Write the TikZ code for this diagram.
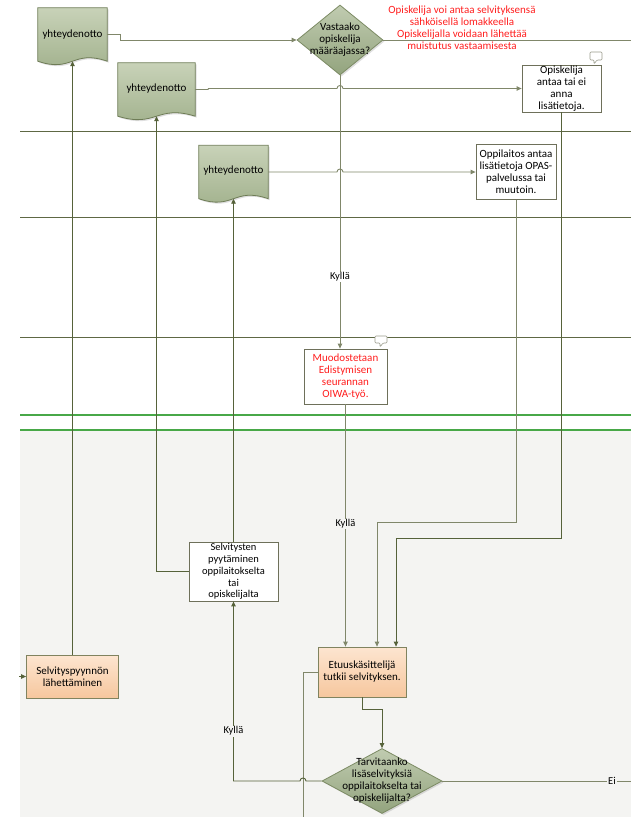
\documentclass[tikz,border=0pt]{standalone}
\usepackage{fontspec}
\setmainfont{Carlito}
\usetikzlibrary{shapes.geometric,arrows.meta,backgrounds,calc,shadows}
\definecolor{lineD}{HTML}{56623A}
\definecolor{lineL}{HTML}{80876A}
\definecolor{lane}{HTML}{5E6844}
\definecolor{grn}{HTML}{48A848}
\definecolor{bg}{HTML}{F4F4F2}
\definecolor{docT}{HTML}{C8D2B8}
\definecolor{docB}{HTML}{A0B08B}
\definecolor{docE}{HTML}{6E7C56}
\definecolor{diaT}{HTML}{C0CBB0}
\definecolor{diaB}{HTML}{93A47E}
\definecolor{diaE}{HTML}{7C8B64}
\definecolor{orT}{HTML}{FDE5D0}
\definecolor{orB}{HTML}{F6C79E}
\definecolor{orE}{HTML}{80835F}
\definecolor{boxE}{HTML}{6E705A}
\definecolor{redt}{HTML}{FF1E1E}
\begin{document}
\begin{tikzpicture}[x=1pt,y=-1pt, font=\fontsize{11}{12}\selectfont,
  conn/.style={draw=lineL, line width=0.9pt},
  connD/.style={draw=lineD, line width=0.9pt},
  arr/.style={-{Triangle[length=5pt,width=4.5pt]}},
  docnode/.style={inner sep=0, align=center},
  shd/.style={drop shadow={shadow xshift=1.5pt, shadow yshift=-1.5pt, opacity=0.25}},
  docshape/.style={draw=docE, line width=0.8pt, top color=docT, bottom color=docB, shd},
  dia/.style={diamond, inner sep=0, draw=diaE, line width=0.8pt, top color=diaT, bottom color=diaB, shd},
  wbox/.style={rectangle, inner sep=0, align=center, draw=boxE, line width=0.8pt, fill=white},
  obox/.style={rectangle, inner sep=0, align=center, draw=orE, line width=0.8pt, top color=orT, bottom color=orB},
  lbl/.style={inner sep=1pt, font=\fontsize{10.5}{12}\selectfont},
  laneline/.style={draw=lane, line width=0.8pt},
  grnline/.style={draw=grn, line width=2pt},
  bubble/.style={draw=boxE!70, fill=white, line width=0.6pt, rounded corners=1pt}
]
\useasboundingbox (0,0) rectangle (631,817);
\begin{scope}[on background layer]
  \fill[bg] (20,431) rectangle (631,817);
  \draw[laneline] (20,131) -- (631,131);
  \draw[laneline] (20,217) -- (631,217);
  \draw[laneline] (20,337) -- (631,337);
  \draw[grnline] (20,415) -- (631,415);
  \draw[grnline] (20,430) -- (631,430);
\end{scope}

% documents
\node[docnode, minimum width=69pt, minimum height=53pt] (d1) at (72.5,34.5) {\raisebox{2pt}{yhteydenotto}};
\node[docnode, minimum width=77pt, minimum height=53pt] (d2) at (156.5,89.5) {\raisebox{4pt}{yhteydenotto}};
\node[docnode, minimum width=69pt, minimum height=53pt] (d3) at (233.5,172) {\raisebox{4pt}{yhteydenotto}};
\begin{scope}[on background layer]
  \foreach \n in {d1,d2,d3}{
    \draw[docshape] (\n.north west) -- (\n.north east) -- (\n.south east)
      .. controls ([yshift=12pt]\n.south) and ([yshift=-12pt]\n.south) .. (\n.south west) -- cycle;
  }
\end{scope}

% decisions
\node[dia, minimum width=86pt, minimum height=70pt,
  label={[align=center]center:Vastaako\\opiskelija\\määräajassa?}] (q1) at (340,40) {};
\node[dia, minimum width=120pt, minimum height=65pt,
  label={[align=center]center:Tarvitaanko\\lisäselvityksiä\\oppilaitokselta tai\\opiskelijalta?}] (q2) at (382,781) {};

% red note
\node[align=center, text=redt] (note) at (462,28) {Opiskelija voi antaa selvityksensä\\sähköisellä lomakkeella\\Opiskelijalla voidaan lähettää\\muistutus vastaamisesta};

% boxes
\node[wbox, minimum width=79pt, minimum height=47pt] (ob) at (561.5,88.5) {Opiskelija\\antaa tai ei\\anna\\lisätietoja.};
\node[wbox, minimum width=80pt, minimum height=55pt] (pb) at (516,172) {Oppilaitos antaa\\lisätietoja OPAS-\\palvelussa tai\\muutoin.};
\node[wbox, minimum width=83pt, minimum height=55pt, text=redt] (mb) at (345.5,376.5) {Muodostetaan\\Edistymisen\\seurannan\\OIWA-työ.};
\node[wbox, minimum width=89pt, minimum height=59pt, font=\fontsize{10.5}{11.8}\selectfont] (sb) at (233.5,571.5) {Selvitysten\\pyytäminen\\oppilaitokselta\\tai\\opiskelijalta};
\node[obox, minimum width=92pt, minimum height=43pt] (spb) at (72.5,676.5) {Selvityspyynnön\\lähettäminen};
\node[obox, minimum width=88pt, minimum height=50pt] (eb) at (362,672) {Etuuskäsittelijä\\tutkii selvityksen.};

% comment bubbles
\draw[bubble] (590,52) -- (602,52) -- (602,60) -- (597,60) -- (594,64) -- (594,60) -- (590,60) -- cycle;
\draw[bubble] (375,336) -- (387,336) -- (387,343) -- (383,343) -- (380,347) -- (380,343) -- (375,343) -- cycle;

% connectors
\coordinate (r1) at (631,40);
\coordinate (r2) at (631,781);
\coordinate (b1) at (303,817);
\coordinate (l1) at (19,676.5);

\draw[conn,arr] (d1.east) -- ++(13,0) |- (q1.west);
\draw[conn] (q1.east) -- (r1);
\draw[conn,arr] (d2.east) -- ++(13,0) |- (337,88.5) .. controls (337,84.5) and (343,84.5) .. (343,88.5) -- (ob.west);
\draw[conn,arr] (d3.east) -- (337,172) .. controls (337,168) and (343,168) .. (343,172) -- (pb.west);
\draw[conn,arr] (q1.south) -- (q1.south |- mb.north);
\draw[conn,arr] (mb.south) -- (mb.south |- eb.north);
\draw[conn,arr] (pb.south) |- (377,522) -- ([xshift=15pt]eb.north);
\draw[connD,arr] (ob.south) |- (396,538) -- ([xshift=34pt]eb.north);
\draw[connD,arr] (eb.south) -- ++(0,12) -| (q2.north);
\draw[conn] (q2.east) -- (r2);
\draw[conn] (eb.west) -| (b1);
\draw[connD,arr] (q2.west) -- (306,781) .. controls (306,777) and (300,777) .. (300,781) -| (sb.south);
\draw[connD,arr] (sb.north) -- (d3.south);
\draw[connD,arr] (sb.west) -| (d2.south);
\draw[connD,arr] (spb.north) -- (d1.south);
\draw[connD,arr] (l1) -- (spb.west);

% labels
\node[lbl, fill=white] (k1) at (340,277) {Kyllä};
\node[lbl, fill=bg] (k2) at (345.5,524) {Kyllä};
\node[lbl, fill=bg] (k3) at (233.5,731) {Kyllä};
\node[lbl, fill=bg] (ei) at (612,781) {Ei};
\end{tikzpicture}
\end{document}
